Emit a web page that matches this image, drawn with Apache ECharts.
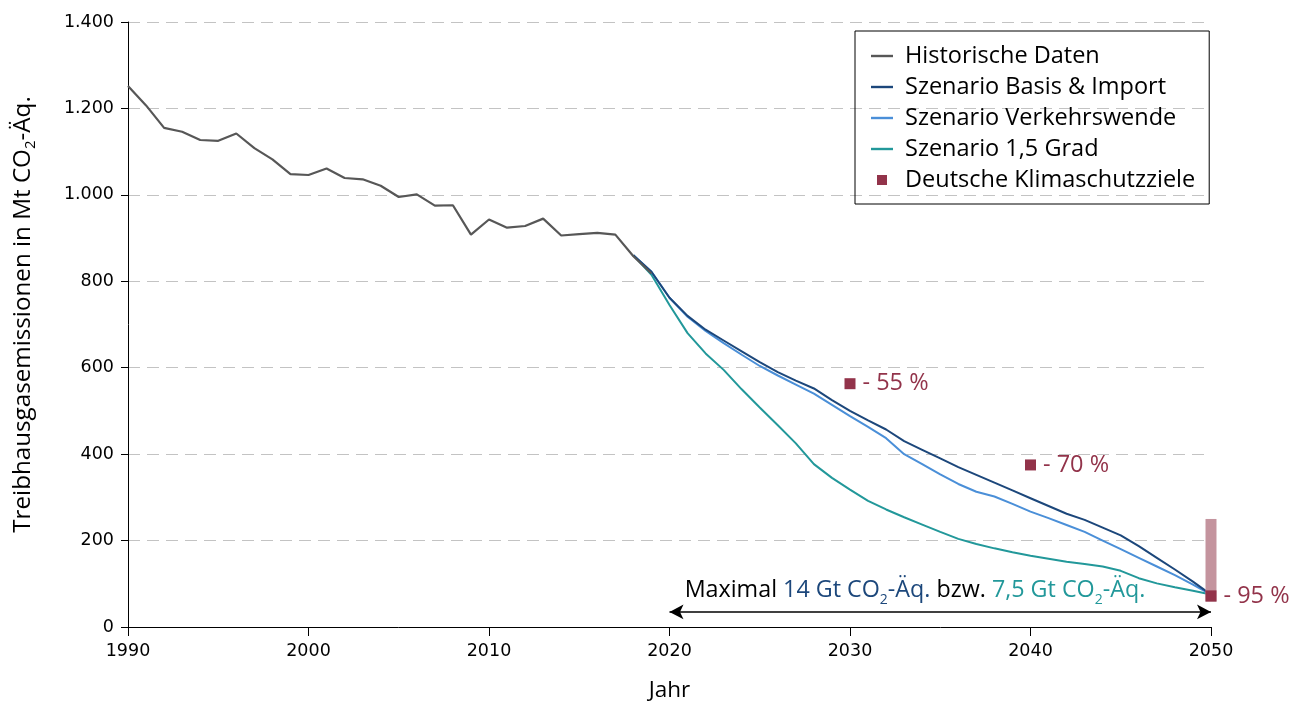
<!DOCTYPE html>
<html>
<head>
<meta charset="utf-8">
<script src="https://cdn.jsdelivr.net/npm/echarts@6/dist/echarts.min.js"></script>
<style>
  html, body { margin: 0; padding: 0; background: #fff; }
  #chart { width: 1295px; height: 704px; }
</style>
</head>
<body>
<div id="chart"></div>
<script>
// historische Daten 1990-2019 (Mt CO2-Äq.)
const histYears = [1990, 1991, 1992, 1993, 1994, 1995, 1996, 1997, 1998, 1999,
  2000, 2001, 2002, 2003, 2004, 2005, 2006, 2007, 2008, 2009,
  2010, 2011, 2012, 2013, 2014, 2015, 2016, 2017, 2018, 2019];
const histValues = [1252, 1207, 1155, 1146, 1127, 1125, 1142, 1108, 1082, 1048,
  1046, 1061, 1039, 1036, 1021, 995, 1001, 975, 976, 908,
  943, 924, 928, 945, 906, 909, 912, 908, 858, 818];

// Szenarien 2018-2050
const scenarioYears = [2018, 2019, 2020, 2021, 2022, 2023, 2024, 2025, 2026, 2027,
  2028, 2029, 2030, 2031, 2032, 2033, 2034, 2035, 2036, 2037,
  2038, 2039, 2040, 2041, 2042, 2043, 2044, 2045, 2046, 2047,
  2048, 2049, 2050];
const basisValues = [860, 822, 762, 720, 688, 663, 638, 613, 590, 570,
  552, 525, 500, 478, 457, 430, 410, 390, 370, 352,
  334, 316, 298, 280, 262, 248, 230, 212, 187, 160,
  133, 105, 75];
const verkehrValues = [860, 822, 762, 718, 685, 657, 630, 604, 582, 561,
  540, 514, 488, 463, 437, 400, 377, 353, 331, 313,
  302, 285, 267, 252, 236, 220, 200, 180, 160, 140,
  120, 98, 75];
const gradValues = [860, 815, 745, 680, 633, 595, 550, 508, 467, 425,
  377, 345, 318, 292, 272, 254, 237, 220, 204, 192,
  182, 173, 165, 158, 151, 146, 140, 130, 113, 101,
  92, 84, 75];

// Klimaschutzziele
const targetYears = [2030, 2040, 2050];
const targetValues = [563, 375, 72];
const targetLabels = ['- 55 %', '- 70 %', '- 95 %'];
const targetRange = [2050, 58, 250]; // Jahr, von, bis

// Pfeil "Maximal ..." (Jahr von, Jahr bis, Höhe)
const budgetArrow = [2020, 2050, 35];

const yTicks = [0, 200, 400, 600, 800, 1000, 1200, 1400];

const COL_HIST = '#575757';
const COL_BASIS = '#1c477b';
const COL_VERKEHR = '#4a8fd8';
const COL_GRAD = '#22989a';
const COL_TARGET = '#92334a';
const COL_RANGE = '#c4949e';

const textFont = "'Open Sans', 'Noto Sans', sans-serif";
const tickFont = "'DejaVu Sans', sans-serif";

const zip = (xs, ys) => xs.map((x, i) => [x, ys[i]]);
const lineIcon = 'path://M0,0h22v2.4h-22z';

const chart = echarts.init(document.getElementById('chart'));

const option = {
  backgroundColor: '#fff',
  animation: false,
  grid: { left: 128, right: 84, top: 22, bottom: 77, outerBoundsMode: 'none' },
  legend: {
    orient: 'vertical',
    left: 855,
    top: 31,
    borderColor: '#000',
    borderWidth: 1,
    borderRadius: 0,
    padding: [13, 14, 12, 16],
    itemWidth: 22,
    itemHeight: 10,
    itemGap: 7,
    textStyle: {
      fontFamily: textFont,
      fontSize: 23.5,
      lineHeight: 22,
      color: '#000',
      padding: [0, 0, 0, 7]
    },
    data: [
      { name: 'Historische Daten', icon: lineIcon },
      { name: 'Szenario Basis & Import', icon: lineIcon },
      { name: 'Szenario Verkehrswende', icon: lineIcon },
      { name: 'Szenario 1,5 Grad', icon: lineIcon },
      { name: 'Deutsche Klimaschutzziele', icon: 'path://M0,0h10v10h-10z' }
    ]
  },
  xAxis: {
    type: 'value',
    min: 1990,
    max: 2050,
    interval: 10,
    name: 'Jahr',
    nameLocation: 'middle',
    nameGap: 52,
    nameTextStyle: { fontFamily: textFont, fontSize: 22.5, color: '#000' },
    axisLine: { lineStyle: { color: '#000', width: 1 } },
    axisTick: { show: true, length: 9, lineStyle: { color: '#000' } },
    axisLabel: {
      fontFamily: tickFont, fontSize: 17.5, color: '#000', margin: 15,
      formatter: v => String(v)
    },
    splitLine: { show: false }
  },
  yAxis: {
    type: 'value',
    min: yTicks[0],
    max: yTicks[yTicks.length - 1],
    interval: 200,
    name: '{a|Treibhausgasemissionen in Mt CO}{s|2}{a|-Äq.}',
    nameLocation: 'middle',
    nameGap: 90,
    nameRotate: 90,
    nameTextStyle: {
      padding: [0, 0, 0, 20],
      rich: {
        a: { fontFamily: textFont, fontSize: 24.2, color: '#000', lineHeight: 30, verticalAlign: 'middle' },
        s: { fontFamily: textFont, fontSize: 15, color: '#000', lineHeight: 14, verticalAlign: 'bottom' }
      }
    },
    axisLine: { show: true, lineStyle: { color: '#000', width: 1 } },
    axisTick: { show: true, length: 7, lineStyle: { color: '#000' } },
    axisLabel: {
      fontFamily: tickFont, fontSize: 17.5, color: '#000', margin: 14,
      formatter: v => String(v).replace(/\B(?=(\d{3})+(?!\d))/g, '.')
    },
    splitLine: { show: true, lineStyle: { color: '#c3c3c3', type: [12, 7], width: 1 } }
  },
  series: [
    {
      name: 'Szenario 1,5 Grad',
      type: 'line',
      data: zip(scenarioYears, gradValues),
      symbol: 'none',
      color: COL_GRAD,
      lineStyle: { color: COL_GRAD, width: 2 },
      z: 3
    },
    {
      name: 'Szenario Verkehrswende',
      type: 'line',
      data: zip(scenarioYears, verkehrValues),
      symbol: 'none',
      color: COL_VERKEHR,
      lineStyle: { color: COL_VERKEHR, width: 2 },
      z: 4
    },
    {
      name: 'Szenario Basis & Import',
      type: 'line',
      data: zip(scenarioYears, basisValues),
      symbol: 'none',
      color: COL_BASIS,
      lineStyle: { color: COL_BASIS, width: 2 },
      z: 5
    },
    {
      name: 'Historische Daten',
      type: 'line',
      data: zip(histYears, histValues),
      symbol: 'none',
      color: COL_HIST,
      lineStyle: { color: COL_HIST, width: 2.2 },
      z: 6
    },
    {
      // Zielkorridor 2050 (-80 % bis -95 %)
      name: 'Zielkorridor',
      type: 'custom',
      data: [targetRange],
      renderItem: (params, api) => {
        const top = api.coord([api.value(0), api.value(2)]);
        const bottom = api.coord([api.value(0), api.value(1)]);
        const w = 11;
        return {
          type: 'rect',
          shape: { x: top[0] - w / 2, y: top[1], width: w, height: bottom[1] - top[1] },
          style: { fill: COL_RANGE }
        };
      },
      z: 7
    },
    {
      name: 'Deutsche Klimaschutzziele',
      type: 'scatter',
      data: zip(targetYears, targetValues),
      symbol: 'rect',
      symbolSize: 11,
      color: COL_TARGET,
      itemStyle: { color: COL_TARGET, opacity: 1 },
      label: {
        show: true,
        position: 'right',
        distance: 7,
        formatter: p => targetLabels[p.dataIndex],
        fontFamily: textFont,
        fontSize: 23.5,
        color: COL_TARGET
      },
      z: 8
    },
    {
      // Budget-Pfeil mit Beschriftung
      name: 'Budget',
      type: 'line',
      data: [],
      symbol: 'none',
      markLine: {
        silent: true,
        symbol: ['arrow', 'arrow'],
        symbolSize: [11, 14],
        label: { show: false },
        lineStyle: { color: '#000', width: 1.5, type: 'solid' },
        data: [[
          { coord: [budgetArrow[0], budgetArrow[2]] },
          { coord: [budgetArrow[1], budgetArrow[2]] }
        ]]
      },
      markPoint: {
        silent: true,
        symbol: 'rect',
        symbolSize: 0,
        data: [{ coord: [2033.6, 84] }],
        label: {
          show: true,
          position: 'inside',
          formatter: '{k|Maximal }{n|14 Gt CO}{ns|2}{n|-Äq.}{k| bzw. }{t|7,5 Gt CO}{ts|2}{t|-Äq.}',
          rich: {
            k: { fontFamily: textFont, fontSize: 23.3, color: '#000', lineHeight: 32, verticalAlign: 'middle' },
            n: { fontFamily: textFont, fontSize: 23.3, color: COL_BASIS, lineHeight: 32, verticalAlign: 'middle' },
            ns: { fontFamily: textFont, fontSize: 14, color: COL_BASIS, lineHeight: 14, verticalAlign: 'bottom' },
            t: { fontFamily: textFont, fontSize: 23.3, color: COL_GRAD, lineHeight: 32, verticalAlign: 'middle' },
            ts: { fontFamily: textFont, fontSize: 14, color: COL_GRAD, lineHeight: 14, verticalAlign: 'bottom' }
          }
        }
      },
      z: 9
    }
  ]
};

chart.setOption(option);
</script>
</body>
</html>
